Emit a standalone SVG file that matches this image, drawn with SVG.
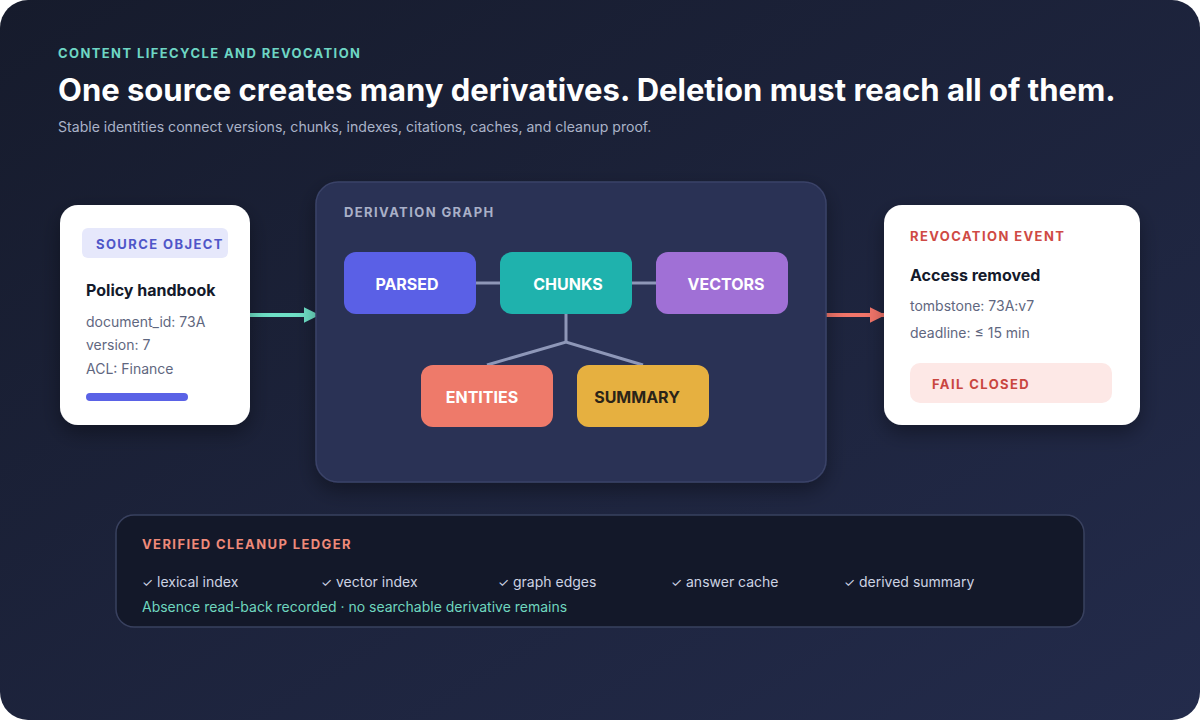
<svg xmlns="http://www.w3.org/2000/svg" width="1200" height="720" viewBox="0 0 1200 720">
<defs>
<linearGradient id="bg" x1="0" y1="0" x2="1" y2="1">
<stop offset="0" stop-color="#161b2c"/>
<stop offset="1" stop-color="#232b4b"/>
</linearGradient>
<filter id="sh" x="-20%" y="-20%" width="140%" height="150%">
<feDropShadow dx="0" dy="8" stdDeviation="10" flood-color="#000" flood-opacity="0.35"/>
</filter>
<marker id="ahT" viewBox="0 0 10 10" refX="9" refY="5" markerWidth="4" markerHeight="4" orient="auto" markerUnits="strokeWidth">
<path d="M0,0 L10,5 L0,10 z" fill="#6ee0c6"/>
</marker>
<marker id="ahR" viewBox="0 0 10 10" refX="9" refY="5" markerWidth="4" markerHeight="4" orient="auto" markerUnits="strokeWidth">
<path d="M0,0 L10,5 L0,10 z" fill="#f2756a"/>
</marker>
<style>
text{font-family:Inter,"Liberation Sans",sans-serif}
.cap{font-size:13px;font-weight:700;letter-spacing:1.4px}
.body{font-size:14px;fill:#5f6780}
.ttl{font-size:16px;font-weight:700;fill:#141a2b}
.node{font-size:16px;font-weight:700;fill:#ffffff;text-anchor:middle}
.chk{font-size:14px;fill:#cdd3e3}
.conn{stroke:#8e97b8;stroke-width:3;fill:none}
</style>
</defs>
<rect width="1200" height="720" fill="#ffffff"/>
<rect width="1200" height="720" rx="28" fill="url(#bg)"/>

<g id="header">
<text x="58" y="58" class="cap" fill="#6ed6c4">CONTENT LIFECYCLE AND REVOCATION</text>
<text x="58" y="101" font-size="31" font-weight="700" fill="#ffffff">One source creates many derivatives. Deletion must reach all of them.</text>
<text x="58" y="132" font-size="14.1" fill="#aab3c8">Stable identities connect versions, chunks, indexes, citations, caches, and cleanup proof.</text>
</g>

<g id="connectors">
<line x1="250" y1="315" x2="318" y2="315" stroke="#6ee0c6" stroke-width="4" marker-end="url(#ahT)"/>
<line x1="826" y1="315" x2="884" y2="315" stroke="#f2756a" stroke-width="4" marker-end="url(#ahR)"/>
</g>

<g id="source">
<rect x="60" y="205" width="190" height="220" rx="18" fill="#ffffff" filter="url(#sh)"/>
<rect x="82" y="228" width="146" height="30" rx="6" fill="#e6e8fb"/>
<text x="96" y="249" class="cap" fill="#4f56c8">SOURCE OBJECT</text>
<text x="86" y="296" class="ttl">Policy handbook</text>
<text x="86" y="327" class="body">document_id: 73A</text>
<text x="86" y="350" class="body">version: 7</text>
<text x="86" y="374" class="body">ACL: Finance</text>
<rect x="86" y="393" width="102" height="8" rx="4" fill="#5a62e6"/>
</g>

<g id="graph">
<rect x="316" y="182" width="510" height="300" rx="22" fill="#2a3154" stroke="#3a4368" stroke-width="1.5" filter="url(#sh)"/>
<text x="344" y="217" class="cap" fill="#a9b0c8">DERIVATION GRAPH</text>
<g id="graph-edges">
<line class="conn" x1="476" y1="283" x2="500" y2="283"/>
<line class="conn" x1="632" y1="283" x2="656" y2="283"/>
<polyline class="conn" points="566,314 566,342"/>
<polyline class="conn" points="487,365 566,342 643,365"/>
</g>
<g id="parsed">
<rect x="344" y="252" width="132" height="62" rx="12" fill="#5a60e6"/>
<text x="407" y="290" class="node">PARSED</text>
</g>
<g id="chunks">
<rect x="500" y="252" width="132" height="62" rx="12" fill="#1fb2ad"/>
<text x="568" y="290" class="node">CHUNKS</text>
</g>
<g id="vectors">
<rect x="656" y="252" width="132" height="62" rx="12" fill="#a070d6"/>
<text x="726" y="290" class="node">VECTORS</text>
</g>
<g id="entities">
<rect x="421" y="365" width="132" height="62" rx="12" fill="#ee7a6a"/>
<text x="482" y="403" class="node">ENTITIES</text>
</g>
<g id="summary">
<rect x="577" y="365" width="132" height="62" rx="12" fill="#e6b040"/>
<text x="637" y="403" class="node" style="fill:#2a2418">SUMMARY</text>
</g>
</g>

<g id="revocation">
<rect x="884" y="205" width="256" height="220" rx="18" fill="#ffffff" filter="url(#sh)"/>
<text x="910" y="241" class="cap" fill="#cf4a44">REVOCATION EVENT</text>
<text x="910" y="281" class="ttl">Access removed</text>
<text x="910" y="311" class="body">tombstone: 73A:v7</text>
<text x="910" y="338" class="body">deadline: ≤ 15 min</text>
<rect x="910" y="363" width="202" height="40" rx="10" fill="#fde8e6"/>
<text x="932" y="389" class="cap" fill="#c9463f">FAIL CLOSED</text>
</g>

<g id="ledger">
<rect x="116" y="515" width="968" height="112" rx="18" fill="#131829" stroke="#39415f" stroke-width="1.5"/>
<text x="142" y="549" class="cap" fill="#ef8a7a">VERIFIED CLEANUP LEDGER</text>
<text x="142" y="587" class="chk"><tspan font-size="12.5">✓</tspan> lexical index</text>
<text x="321" y="587" class="chk"><tspan font-size="12.5">✓</tspan> vector index</text>
<text x="498" y="587" class="chk"><tspan font-size="12.5">✓</tspan> graph edges</text>
<text x="671" y="587" class="chk"><tspan font-size="12.5">✓</tspan> answer cache</text>
<text x="844" y="587" class="chk"><tspan font-size="12.5">✓</tspan> derived summary</text>
<text x="142" y="612" font-size="14" fill="#6fd6bf">Absence read-back recorded · no searchable derivative remains</text>
</g>
</svg>
